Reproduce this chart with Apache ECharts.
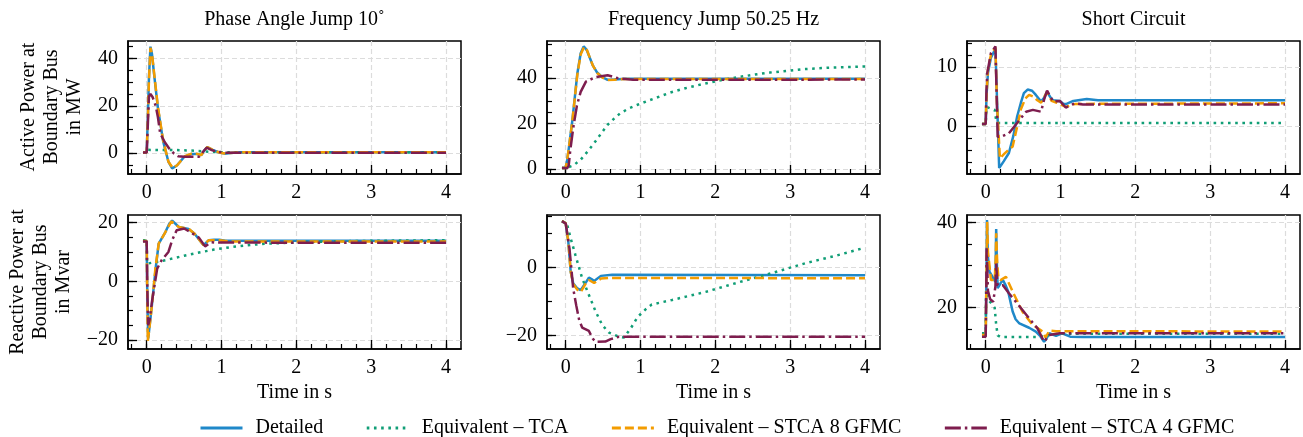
<!DOCTYPE html>
<html lang="en">
<head>
<meta charset="utf-8"/>
<script src="https://cdn.jsdelivr.net/npm/echarts@6.0.0/dist/echarts.min.js"></script>
<style>
    html, body { margin: 0; padding: 0; background: #fff; }
    #main { width: 1303px; height: 437px; }
</style>
</head>
<body>
<div id="main"></div>
<script>
    // legend / series names
    var seriesNames = ['Detailed', 'Equivalent – TCA', 'Equivalent – STCA 8 GFMC', 'Equivalent – STCA 4 GFMC'];
    var panelTitles = ['Phase Angle Jump 10˚', 'Frequency Jump 50.25 Hz', 'Short Circuit'];

    // time axis ticks
    var timeMajor = [0, 1, 2, 3, 4];
    var timeMinor = [-0.2, 0, 0.2, 0.4, 0.6, 0.8, 1, 1.2, 1.4, 1.6, 1.8, 2, 2.2, 2.4, 2.6, 2.8, 3, 3.2, 3.4, 3.6, 3.8, 4];

    // y ticks per panel
    var yMajorP1 = [0, 20, 40], yMinorP1 = [-5, 0, 5, 10, 15, 20, 25, 30, 35, 40, 45];
    var yMajorP2 = [0, 20, 40], yMinorP2 = [0, 5, 10, 15, 20, 25, 30, 35, 40, 45, 50, 55];
    var yMajorP3 = [0, 10], yMinorP3 = [-6, -4, -2, 0, 2, 4, 6, 8, 10, 12, 14];
    var yMajorQ1 = [-20, 0, 20], yMinorQ1 = [-20, -15, -10, -5, 0, 5, 10, 15, 20];
    var yMajorQ2 = [-20, 0], yMinorQ2 = [-20, -15, -10, -5, 0, 5, 10, 15];
    var yMajorQ3 = [20, 40], yMinorQ3 = [15, 20, 25, 30, 35, 40];

    // active power, phase angle jump  [t, MW]
    var phaseP_det = [[-0.05,0.3],[0,0.3],[0.015,15],[0.03,32],[0.05,45],[0.07,42],[0.1,33],[0.15,19],[0.22,5],[0.29,-3.6],[0.34,-6.4],[0.4,-5.3],[0.5,-1.6],[0.6,-0.3],[0.68,-0.4],[0.73,-0.8],[0.77,1.2],[0.81,2.6],[0.88,1.4],[0.96,0.4],[1.04,-0.2],[1.12,0.1],[1.25,0.4],[4,0.4]];
    var phaseP_tca = [[-0.05,0.3],[0,0.3],[0.01,1.4],[0.4,1.3],[0.6,1.1],[0.75,0.8],[0.9,0.5],[1.1,0.4],[4,0.4]];
    var phaseP_s8 = [[-0.05,0.3],[0,0.3],[0.015,14],[0.03,31],[0.05,44.5],[0.07,42],[0.1,33.5],[0.15,19.4],[0.22,5.4],[0.29,-3.6],[0.35,-6.3],[0.41,-5],[0.51,-1.3],[0.6,-0.2],[0.68,-0.3],[0.73,-0.8],[0.77,1.2],[0.81,2.6],[0.89,1.3],[0.97,0.3],[1.04,-0.1],[1.12,0.1],[1.25,0.4],[4,0.4]];
    var phaseP_s4 = [[-0.05,0.3],[0,0.3],[0.015,12],[0.03,24],[0.05,25],[0.08,23.6],[0.12,20],[0.15,15.2],[0.18,8.4],[0.24,4.7],[0.3,2],[0.36,0],[0.42,-1.3],[0.5,-1.5],[0.7,-1.5],[0.75,0.5],[0.8,2.3],[0.87,1.3],[0.95,0.5],[1.05,0.2],[4,0.2]];

    // active power, frequency jump
    var freqP_det = [[-0.05,0.4],[0,0.4],[0.02,4],[0.045,10],[0.09,21.7],[0.155,42],[0.2,51],[0.24,54],[0.28,52.5],[0.36,45.8],[0.42,42.5],[0.49,40.5],[0.56,39.3],[0.65,39.4],[0.8,39.8],[4,39.8]];
    var freqP_tca = [[-0.05,0.4],[0,0.4],[0.1,1.5],[0.2,4.1],[0.3,8],[0.38,11.4],[0.47,15.5],[0.56,19.5],[0.65,22.3],[0.73,24.6],[0.85,26.8],[0.96,28.3],[1.2,31.3],[1.4,33.7],[1.6,35.6],[1.84,37.5],[2.05,39],[2.29,40.4],[2.5,41.5],[2.73,42.5],[3,43.4],[3.18,44],[3.5,44.6],[4,45.2]];
    var freqP_s8 = [[-0.05,0.4],[0,0.4],[0.02,4],[0.045,10],[0.09,21.5],[0.155,41.5],[0.2,50.5],[0.245,53.8],[0.285,52.3],[0.36,45.8],[0.42,42.3],[0.49,40.3],[0.56,39.2],[0.65,39.3],[0.8,39.7],[4,39.7]];
    var freqP_s4 = [[-0.05,0.4],[0.02,0.4],[0.04,1.5],[0.06,8],[0.1,18],[0.15,28],[0.2,34],[0.27,38.5],[0.4,40.5],[0.56,41.3],[0.7,40],[0.9,39.3],[4,39.4]];

    // active power, short circuit
    var scP_det = [[-0.05,0.45],[0,0.45],[0.01,5],[0.03,9],[0.07,11.5],[0.13,13],[0.15,5],[0.18,-6.9],[0.24,-5.8],[0.31,-4.4],[0.37,-1.5],[0.42,1.7],[0.47,4],[0.51,5.6],[0.56,6.2],[0.62,6],[0.67,5.3],[0.74,4.2],[0.78,4.8],[0.82,5.8],[0.86,5],[0.9,4.4],[0.99,4.3],[1.04,3.8],[1.08,3.8],[1.17,4.3],[1.35,4.6],[1.5,4.4],[4,4.4]];
    var scP_tca = [[-0.05,0.45],[0,0.45],[0.01,3.3],[0.12,2.8],[0.14,1],[0.16,0.6],[4,0.6]];
    var scP_s8 = [[-0.05,0.45],[0,0.45],[0.01,5],[0.03,9.5],[0.07,12],[0.13,13.2],[0.15,4],[0.19,-5.3],[0.25,-4.5],[0.36,-3.3],[0.42,0],[0.47,2.9],[0.53,4.7],[0.58,5.3],[0.64,5],[0.69,4.4],[0.74,4],[0.82,5.8],[0.88,4.3],[0.95,4],[1.07,3.3],[1.2,3.8],[4,3.9]];
    var scP_s4 = [[-0.05,0.45],[0,0.45],[0.01,6],[0.02,8.9],[0.07,12.3],[0.13,13.4],[0.16,-1.7],[0.22,-1.6],[0.31,-1.1],[0.38,0],[0.45,1.1],[0.54,2.5],[0.63,2.8],[0.74,2.5],[0.78,4.5],[0.82,6],[0.9,4.2],[0.99,4.3],[1.07,3.2],[1.19,3.9],[1.3,3.7],[4,3.7]];

    // reactive power, phase angle jump [t, Mvar]
    var phaseQ_det = [[-0.05,13.7],[0,13.7],[0.005,0],[0.02,-19.5],[0.04,-15],[0.07,-8],[0.12,4.5],[0.16,12.8],[0.25,16.8],[0.3,19.5],[0.34,20.7],[0.43,18.5],[0.56,17.8],[0.64,16.2],[0.76,12.3],[0.83,14],[0.9,14.2],[0.97,14.2],[1.05,13.8],[4,13.8]];
    var phaseQ_tca = [[-0.05,14],[0,14],[0.005,6],[0.25,7.2],[0.5,8.7],[0.7,9.8],[0.9,10.8],[1.14,11.7],[1.4,12.4],[1.59,12.8],[2.04,13.3],[2.5,13.6],[3,13.8],[4,14]];
    var phaseQ_s8 = [[-0.05,13.7],[0,13.7],[0.005,0],[0.015,-20.4],[0.04,-15],[0.07,-8.2],[0.116,4.3],[0.16,12.8],[0.25,16.8],[0.33,20.4],[0.43,18.5],[0.56,17.9],[0.64,16.2],[0.76,12.3],[0.83,14],[0.97,14],[1.1,13.6],[4,13.6]];
    var phaseQ_s4 = [[-0.05,13.6],[0,13.6],[0.01,-5],[0.02,-15],[0.04,-13],[0.07,-7],[0.14,4.3],[0.2,7.2],[0.29,10],[0.34,14],[0.4,17.4],[0.5,18],[0.6,16.5],[0.7,14.8],[0.78,11.9],[0.86,13.3],[0.95,13.2],[4,13.1]];

    // reactive power, frequency jump
    var freqQ_det = [[-0.05,13.7],[0,13.1],[0.035,7.6],[0.067,-1.2],[0.1,-4.6],[0.156,-6.1],[0.2,-6.6],[0.27,-4.3],[0.31,-2.9],[0.35,-3.4],[0.38,-3.9],[0.47,-2.4],[0.62,-2.1],[4,-2.2]];
    var freqQ_tca = [[-0.05,13.7],[0.02,12.6],[0.067,8.6],[0.13,3.7],[0.22,-3.1],[0.31,-8],[0.4,-12.9],[0.49,-16.9],[0.58,-19.1],[0.71,-20.3],[0.78,-20.5],[0.87,-17.8],[0.96,-14.5],[1.07,-12.2],[1.15,-10.8],[1.42,-9.5],[1.87,-7.1],[2.31,-4.3],[2.75,-1.6],[3.2,1.3],[3.64,3.7],[4,5.9]];
    var freqQ_s8 = [[-0.05,13.7],[0,13.1],[0.035,7.6],[0.067,-1.2],[0.1,-4.8],[0.156,-6.5],[0.2,-7.2],[0.27,-4.6],[0.31,-3.6],[0.38,-4.5],[0.47,-3.2],[0.6,-3],[4,-3.1]];
    var freqQ_s4 = [[-0.05,13.7],[0,13],[0.05,5.7],[0.1,-6.1],[0.14,-11],[0.18,-15.4],[0.22,-17.6],[0.31,-18.6],[0.36,-20.8],[0.4,-21.8],[0.53,-21.7],[0.6,-21],[0.71,-20.3],[4,-20.3]];

    // reactive power, short circuit
    var scQ_det = [[-0.05,13.6],[0,13.6],[0.012,30],[0.017,40.6],[0.03,32],[0.05,28.5],[0.09,27.3],[0.13,26.1],[0.135,33],[0.14,38.5],[0.15,30],[0.16,24.6],[0.2,25.8],[0.23,26.5],[0.26,25.5],[0.3,23.8],[0.36,19.1],[0.4,17.3],[0.45,16.3],[0.58,15.3],[0.67,14.4],[0.73,13.3],[0.78,12],[0.82,13],[0.85,14],[0.94,13.4],[1.02,14],[1.13,13.2],[1.3,13.1],[4,13.1]];
    var scQ_tca = [[-0.05,14],[0,14],[0.005,24],[0.03,22],[0.12,20],[0.14,16],[0.16,13.5],[0.2,13.1],[0.7,13.1],[0.8,13.5],[1,13.9],[4,13.9]];
    var scQ_s8 = [[-0.05,13.6],[0,13.6],[0.012,30],[0.02,40.2],[0.03,33],[0.05,30],[0.07,26.5],[0.12,26.5],[0.135,32],[0.14,37.5],[0.155,30],[0.17,27],[0.2,26.5],[0.27,27.3],[0.36,23.8],[0.49,19.1],[0.62,16.1],[0.76,14.4],[0.8,13],[0.85,14.6],[0.94,14.5],[4,14.4]];
    var scQ_s4 = [[-0.05,13.2],[0,13.2],[0.008,25],[0.012,34],[0.03,24],[0.06,22],[0.1,21.4],[0.12,21],[0.13,25],[0.14,30.4],[0.155,26],[0.16,25.3],[0.23,25.3],[0.31,23.4],[0.44,20.6],[0.58,17.5],[0.69,15.2],[0.78,12],[0.85,13.6],[0.99,14],[4,14]];

    var font = 'Liberation Serif';
    var lineStyles = [
        {color: '#1f88c9', type: 'solid'},
        {color: '#109e76', type: [2.6, 4.6]},
        {color: '#f39c00', type: [9, 4]},
        {color: '#7e1d4e', type: [16, 4, 2.5, 4]}
    ];

    var panels = [
        {left: 128, top: 41, h: 133, ymin: -8.8, ymax: 47.4, major: yMajorP1, minor: yMinorP1, lines: [phaseP_det, phaseP_tca, phaseP_s8, phaseP_s4]},
        {left: 547, top: 41, h: 133, ymin: -2.2, ymax: 56.4, major: yMajorP2, minor: yMinorP2, lines: [freqP_det, freqP_tca, freqP_s8, freqP_s4]},
        {left: 967, top: 41, h: 133, ymin: -7.9, ymax: 14.3, major: yMajorP3, minor: yMinorP3, lines: [scP_det, scP_tca, scP_s8, scP_s4]},
        {left: 128, top: 215, h: 134, ymin: -23.1, ymax: 22.6, major: yMajorQ1, minor: yMinorQ1, lines: [phaseQ_det, phaseQ_tca, phaseQ_s8, phaseQ_s4]},
        {left: 547, top: 215, h: 134, ymin: -23.9, ymax: 15.5, major: yMajorQ2, minor: yMinorQ2, lines: [freqQ_det, freqQ_tca, freqQ_s8, freqQ_s4]},
        {left: 967, top: 215, h: 134, ymin: 10.3, ymax: 41.8, major: yMajorQ3, minor: yMinorQ3, lines: [scQ_det, scQ_tca, scQ_s8, scQ_s4]}
    ];
    var plotW = 333;

    function fmt(v) {
        return String(v).replace('-', '\u2212');
    }

    var grids = [], xAxes = [], yAxes = [], series = [];
    panels.forEach(function (p, i) {
        grids.push({left: p.left, top: p.top, width: plotW, height: p.h, show: true,
            borderColor: '#000', borderWidth: 1.5, containLabel: false});
        // major x
        xAxes.push({
            type: 'value', gridIndex: i, min: -0.25, max: 4.2, position: 'bottom',
            axisLine: {show: true, onZero: false, lineStyle: {color: '#000', width: 1.5}},
            axisTick: {inside: true, length: 9, customValues: timeMajor, lineStyle: {color: '#000', width: 1.3}},
            axisLabel: {customValues: timeMajor, formatter: fmt, color: '#000', fontFamily: font, fontSize: 20, margin: 9},
            splitLine: {show: true, lineStyle: {color: '#dcdcdc', width: 1.2, type: [5, 3]}}
        });
        // minor x
        xAxes.push({
            type: 'value', gridIndex: i, min: -0.25, max: 4.2, position: 'bottom', offset: 0,
            axisLine: {show: false, onZero: false}, axisLabel: {show: false}, splitLine: {show: false},
            axisTick: {inside: true, length: 5, customValues: timeMinor, lineStyle: {color: '#000', width: 1.2}}
        });
        // major y
        yAxes.push({
            type: 'value', gridIndex: i, min: p.ymin, max: p.ymax, position: 'left',
            axisLine: {show: true, onZero: false, lineStyle: {color: '#000', width: 1.5}},
            axisTick: {inside: true, length: 9, customValues: p.major, lineStyle: {color: '#000', width: 1.3}},
            axisLabel: {customValues: p.major, formatter: fmt, color: '#000', fontFamily: font, fontSize: 20, margin: 10},
            splitLine: {show: true, lineStyle: {color: '#dcdcdc', width: 1.2, type: [5, 3]}}
        });
        // minor y
        yAxes.push({
            type: 'value', gridIndex: i, min: p.ymin, max: p.ymax, position: 'left', offset: 0,
            axisLine: {show: false, onZero: false}, axisLabel: {show: false}, splitLine: {show: false},
            axisTick: {inside: true, length: 5, customValues: p.minor, lineStyle: {color: '#000', width: 1.2}}
        });
        p.lines.forEach(function (d, k) {
            series.push({
                name: seriesNames[k], type: 'line', xAxisIndex: 2 * i, yAxisIndex: 2 * i,
                data: d, showSymbol: false, symbol: 'none', animation: false,
                lineStyle: {color: lineStyles[k].color, width: 2.5, type: lineStyles[k].type, cap: 'butt'},
                itemStyle: {color: lineStyles[k].color},
                z: 2 + k
            });
        });
    });

    var graphics = [];
    // column titles and x names
    panelTitles.forEach(function (t, c) {
        graphics.push({type: 'text', x: panels[c].left + plotW / 2, y: 20,
            style: {text: t, fill: '#000', font: '20px "' + font + '"', textAlign: 'center', textVerticalAlign: 'middle'}});
        graphics.push({type: 'text', x: panels[c].left + plotW / 2, y: 393,
            style: {text: 'Time in s', fill: '#000', font: '20px "' + font + '"', textAlign: 'center', textVerticalAlign: 'middle'}});
    });
    // row labels
    graphics.push({type: 'text', x: 52, y: 107, rotation: Math.PI / 2,
        style: {text: 'Active Power at\nBoundary Bus\nin MW', fill: '#000', font: '20px "' + font + '"',
            lineHeight: 23, textAlign: 'center', textVerticalAlign: 'middle'}});
    graphics.push({type: 'text', x: 41, y: 282, rotation: Math.PI / 2,
        style: {text: 'Reactive Power at\nBoundary Bus\nin Mvar', fill: '#000', font: '20px "' + font + '"',
            lineHeight: 23, textAlign: 'center', textVerticalAlign: 'middle'}});

    var chart = echarts.init(document.getElementById('main'), null, {renderer: 'canvas'});
    chart.setOption({
        animation: false,
        backgroundColor: '#fff',
        grid: grids,
        xAxis: xAxes,
        yAxis: yAxes,
        series: series,
        graphic: graphics,
        legend: {
            data: seriesNames, left: 194, top: 413, itemWidth: 42, itemHeight: 14, itemGap: 42,
            textStyle: {color: '#000', fontFamily: font, fontSize: 20, padding: [0, 0, 0, 8]},
            itemStyle: {opacity: 0},
            lineStyle: {width: 3}
        }
    });
</script>
</body>
</html>
